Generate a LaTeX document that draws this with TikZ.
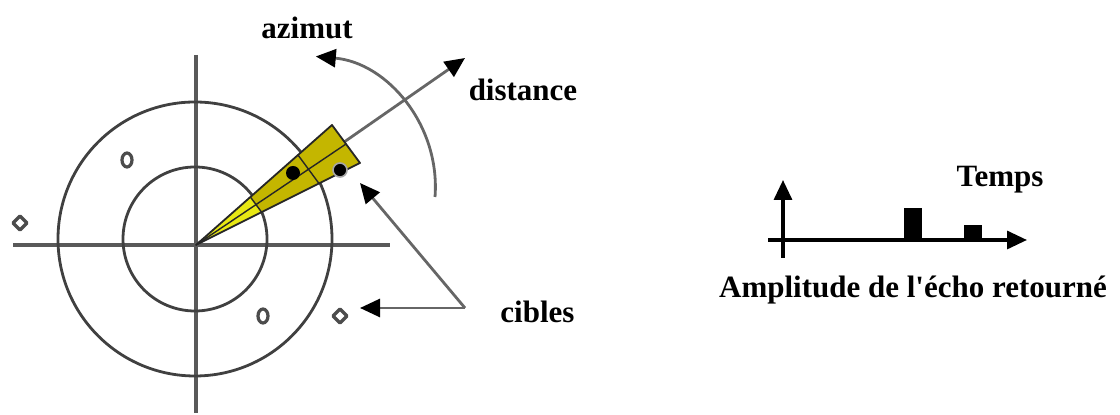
\documentclass[tikz,border=0pt]{standalone}
\usepackage{fontspec}
\setmainfont{Liberation Serif}
\usepackage{tikz}
\usetikzlibrary{
	arrows.meta,
	calc,
	positioning
}

\definecolor{jauneclair}{RGB}{232,232,20}
\definecolor{jaunefonce}{RGB}{196,182,0}

\tikzset{
	axe/.style={line width=1.6pt, draw=black!65},
	cercle/.style={line width=1.4pt, draw=black!75},
	fleche/.style={line width=1.4pt, draw=black!60, -{Triangle[length=10pt,width=9pt,color=black]}},
	legende/.style={font=\bfseries\fontsize{15.5}{17}\selectfont, inner sep=0pt},
	cible/.style={line width=1.6pt, draw=black!70, fill=white, line join=round},
	courbe/.style={line width=1.6pt, -{Triangle[length=10pt,width=9pt]}}
}

\begin{document}
\begin{tikzpicture}[x=0.5pt, y=-0.5pt]
			\useasboundingbox (0,0) rectangle (1120,415);
			\coordinate (O) at (196,245);
			\coordinate (C) at (195,239);
			% axes et cercles
			\draw[axe] (13,245) -- (390,245);
			\draw[axe] (196,55) -- (196,413);
			\draw[cercle] (C) circle (72);
			\draw[cercle] (C) circle (137);
			% cibles
			\draw[cible] (127,160) ellipse (5 and 7);
			\draw[cible] (263,316) ellipse (5 and 7);
			\draw[cible] (20,216) -- (27,223) -- (20,230) -- (13,223) -- cycle;
			\draw[cible] (340,309) -- (347,316) -- (340,323) -- (333,316) -- cycle;
			% faisceau
			\coordinate (dist) at (465,58);
			\coordinate (H) at (332,125);
			\coordinate (B) at (360,163);
			\draw[fleche] (O) -- (dist);
			\fill[jaunefonce] (O) -- (H) -- (B) -- cycle;
			\fill[jauneclair] (O) -- ($(O)!0.4!(H)$) -- ($(O)!0.4!(B)$) -- cycle;
			\draw[black!85, line width=0.9pt, line join=round] (O) -- (H) -- (B) -- cycle;
			\draw[black!85, line width=0.7pt] (O) -- ($(H)!0.5!(B)$);
			\draw[black!85, line width=0.7pt] ($(O)!0.4!(H)$) -- ($(O)!0.4!(B)$);
			\draw[black!85, line width=0.7pt] ($(O)!0.75!(H)$) -- ($(O)!0.75!(B)$);
			\fill (293,173) circle (7);
			\filldraw[fill=black, draw=black!35, line width=0.8pt] (340,170) circle (7);
			\coordinate (t1) at (360,183);
			\coordinate (t2) at (360,308);
			% azimut
			\draw[fleche] (435,197) arc[start angle=4.4, end angle=-85, radius=131];
			\node[legende] (azimut) at (307,28) {azimut};
			\node[legende] (distance) at (523,90) {distance};
			\node[legende, anchor=west] (cibles) at (500,312) {cibles};
			\coordinate (src) at (465,308);
			\draw[fleche] (src) -- (t1);
			\draw[fleche] (src) -- (t2);
			% echo
			\draw[courbe] (768,240) -- (1027,240);
			\draw[courbe] (783,258) -- (783,180);
			\fill (904,240) rectangle (922,208);
			\fill (964,240) rectangle (982,225);
			\node[legende] (temps) at (1000,180) {Temps};
			\node[legende] (ampl) at (913,290) {Amplitude de l\textquotesingle écho retourné};
		\end{tikzpicture}
\end{document}
